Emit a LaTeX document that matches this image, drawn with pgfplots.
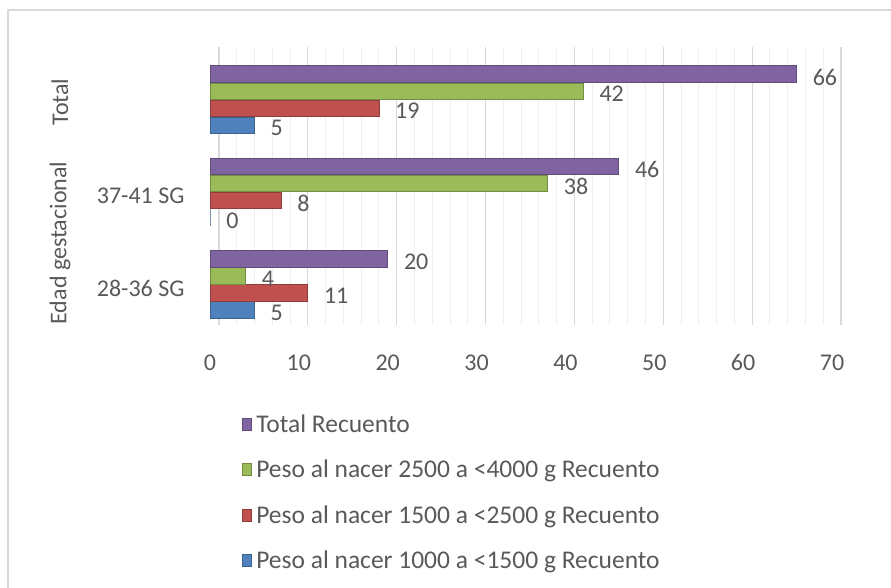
\documentclass[border=0pt]{standalone}
\usepackage{fontspec}
\setmainfont{Carlito}
\usepackage{pgfplots}
\pgfplotsset{compat=1.18}

\definecolor{cPurple}{HTML}{8064A2}
\definecolor{cGreen}{HTML}{9BBB59}
\definecolor{cRed}{HTML}{C0504D}
\definecolor{cBlue}{HTML}{4F81BD}
\definecolor{txt}{HTML}{595959}
\definecolor{gridMaj}{HTML}{D9D9D9}
\definecolor{gridMin}{HTML}{EFEFEF}
\definecolor{frame}{HTML}{D9D9D9}

\newcommand{\bigf}{\fontsize{24}{28}\selectfont}
\newcommand{\legf}{\fontsize{25.5}{30}\selectfont}

\begin{document}
\begin{tikzpicture}
\useasboundingbox (0,0) rectangle (891pt,588pt);
\draw[frame, line width=1.5pt] (8pt,0) -- (8pt,578pt) -- (891pt,578pt);

\begin{axis}[
  at={(210pt,263pt)}, anchor=south west,
  scale only axis, width=622pt, height=278pt,
  xbar=0.6pt, bar width=16.5pt,
  xmin=0, xmax=70, ymin=-0.44, ymax=2.57,
  xtick={0,10,...,70}, minor x tick num=4,
  xmajorgrids, xminorgrids,
  major grid style={gridMaj, line width=1.2pt, xshift=9pt},
  minor grid style={gridMin, line width=1pt, xshift=9pt},
  ytick={0,1,2}, yticklabels={28-36 SG,37-41 SG,{}},
  axis line style={draw=none},
  major tick length=0pt, minor tick length=0pt,
  /pgf/number format/assume math mode=true,
  xticklabel style={font=\bigf, text=txt, yshift=-26pt},
  yticklabel style={font=\bigf, text=txt, xshift=-22pt, yshift=-4pt},
  nodes near coords,
  nodes near coords style={font=\bigf, text=txt, inner sep=2pt, xshift=14pt, yshift=-3pt},
  reverse legend,
  legend cell align=left,
  legend style={draw=none, fill=none, font=\legf, text=txt,
    at={(axis description cs:0.0514,-0.314)}, anchor=north west,
    inner sep=0pt, row sep=22.3pt, column sep=2.5pt,
    nodes={inner sep=2pt}},
  legend image code/.code={\fill[#1] (0pt,-6pt) rectangle (9pt,6pt);},
]
\addplot[fill=cBlue, draw=cBlue!75!black, line width=0.6pt] coordinates {(5,0) (0,1) (5,2)};
\addplot[fill=cRed, draw=cRed!75!black, line width=0.6pt] coordinates {(11,0) (8,1) (19,2)};
\addplot[fill=cGreen, draw=cGreen!75!black, line width=0.6pt] coordinates {(4,0) (38,1) (42,2)};
\addplot[fill=cPurple, draw=cPurple!75!black, line width=0.6pt] coordinates {(20,0) (46,1) (66,2)};
\legend{Peso al nacer 1000 a <1500 g Recuento,
        Peso al nacer 1500 a <2500 g Recuento,
        Peso al nacer 2500 a <4000 g Recuento,
        Total Recuento}
\end{axis}

\node[rotate=90, font=\bigf, text=txt] at (60pt,486pt) {Total};
\node[rotate=90, font=\bigf, text=txt] at (60pt,345pt) {Edad gestacional};
\end{tikzpicture}
\end{document}
